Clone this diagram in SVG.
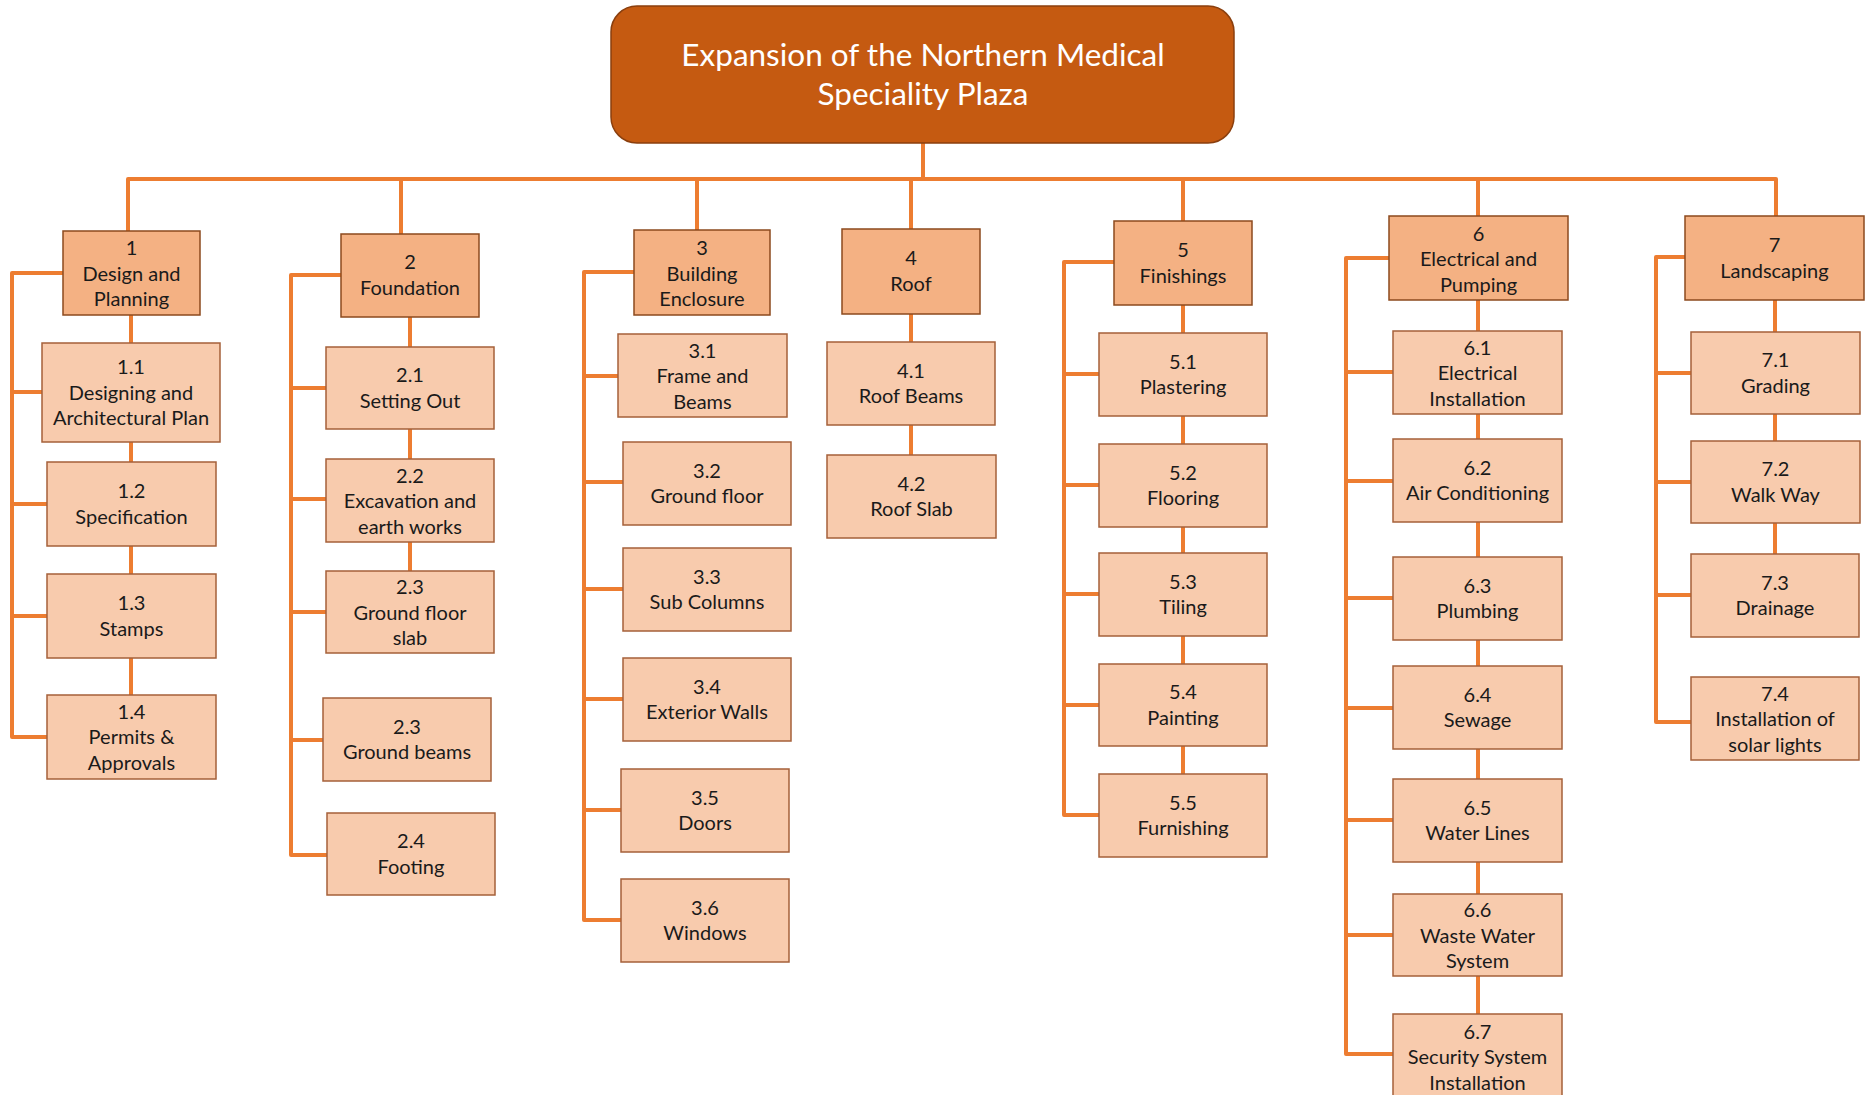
<svg xmlns="http://www.w3.org/2000/svg" width="1869" height="1095" viewBox="0 0 1869 1095">
<style>
.bg{fill:#ffffff}
.root rect{fill:#C55A11;stroke:#8A3F0E;stroke-width:1.5}
.root text{fill:#ffffff;font-family:Lato,"Liberation Sans",sans-serif;font-size:31.5px;text-anchor:middle}
.l1 rect{fill:#F4B183;stroke:#8C4A1E;stroke-width:1.5}
.l2 rect{fill:#F8CBAD;stroke:#A5603A;stroke-width:1.5}
.n text{fill:#1a1a1a;font-family:Lato,"Liberation Sans",sans-serif;font-size:20px;text-anchor:middle}
.c path{fill:none;stroke:#ED7D31;stroke-width:4;stroke-linejoin:round}
</style>
<rect class="bg" x="0" y="0" width="1869" height="1095"/>
<g id="connectors" class="c">
<path d="M923,143 V179"/>
<path d="M128,231 V179 H1776 V216"/>
<path d="M401,179 V234"/><path d="M697,179 V230"/><path d="M911,179 V229"/><path d="M1183,179 V221"/><path d="M1478,179 V216"/>
<path d="M63,273 H12 V737 H47"/><path d="M12,392 H42"/><path d="M12,504 H47"/><path d="M12,616 H47"/>
<path d="M131,315 V343"/><path d="M131,442 V462"/><path d="M131,546 V574"/><path d="M131,658 V695"/>
<path d="M341,275 H291 V855 H327"/><path d="M291,388 H326"/><path d="M291,499 H326"/><path d="M291,612 H326"/><path d="M291,740 H323"/>
<path d="M410,317 V347"/><path d="M410,429 V459"/><path d="M410,542 V571"/>
<path d="M634,272 H584 V920 H621"/><path d="M584,376 H618"/><path d="M584,482 H623"/><path d="M584,589 H623"/><path d="M584,699 H623"/><path d="M584,810 H621"/>
<path d="M911,314 V342"/><path d="M911,425 V455"/>
<path d="M1114,262 H1064 V815 H1099"/><path d="M1064,374 H1099"/><path d="M1064,485 H1099"/><path d="M1064,594 H1099"/><path d="M1064,705 H1099"/>
<path d="M1183,305 V333"/><path d="M1183,416 V444"/><path d="M1183,527 V553"/><path d="M1183,636 V664"/><path d="M1183,746 V774"/>
<path d="M1389,258 H1346 V1054 H1393"/><path d="M1346,372 H1393"/><path d="M1346,481 H1393"/><path d="M1346,598 H1393"/><path d="M1346,708 H1393"/><path d="M1346,820 H1393"/><path d="M1346,935 H1393"/>
<path d="M1478,300 V331"/><path d="M1478,414 V439"/><path d="M1478,522 V557"/><path d="M1478,640 V666"/><path d="M1478,749 V779"/><path d="M1478,862 V894"/><path d="M1478,976 V1014"/>
<path d="M1685,257 H1656 V722 H1691"/><path d="M1656,373 H1691"/><path d="M1656,482 H1691"/><path d="M1656,595 H1691"/>
<path d="M1775,300 V332"/><path d="M1775,414 V441"/><path d="M1775,523 V554"/>
</g>
<g id="root" class="root"><rect x="611" y="6" width="623" height="137" rx="26"/><text x="923" y="66">Expansion of the Northern Medical</text><text x="923" y="105">Speciality Plaza</text></g>

<g id="n1" class="n l1"><rect x="63" y="231" width="137" height="84"/><text x="131.5" y="255">1</text><text x="131.5" y="280.5">Design and</text><text x="131.5" y="306">Planning</text></g>
<g id="n2" class="n l1"><rect x="341" y="234" width="138" height="83"/><text x="410" y="269">2</text><text x="410" y="294.5">Foundation</text></g>
<g id="n3" class="n l1"><rect x="634" y="230" width="136" height="85"/><text x="702" y="255">3</text><text x="702" y="280.5">Building</text><text x="702" y="306">Enclosure</text></g>
<g id="n4" class="n l1"><rect x="842" y="229" width="138" height="85"/><text x="911" y="265">4</text><text x="911" y="290.5">Roof</text></g>
<g id="n5" class="n l1"><rect x="1114" y="221" width="138" height="84"/><text x="1183" y="257">5</text><text x="1183" y="282.5">Finishings</text></g>
<g id="n6" class="n l1"><rect x="1389" y="216" width="179" height="84"/><text x="1478.5" y="240.5">6</text><text x="1478.5" y="266">Electrical and</text><text x="1478.5" y="291.5">Pumping</text></g>
<g id="n7" class="n l1"><rect x="1685" y="216" width="179" height="84"/><text x="1774.5" y="252">7</text><text x="1774.5" y="277.5">Landscaping</text></g>

<g id="n1_1" class="n l2"><rect x="42" y="343" width="178" height="99"/><text x="131" y="374">1.1</text><text x="131" y="399.5">Designing and</text><text x="131" y="425">Architectural Plan</text></g>
<g id="n1_2" class="n l2"><rect x="47" y="462" width="169" height="84"/><text x="131.5" y="498">1.2</text><text x="131.5" y="523.5">Specification</text></g>
<g id="n1_3" class="n l2"><rect x="47" y="574" width="169" height="84"/><text x="131.5" y="610">1.3</text><text x="131.5" y="635.5">Stamps</text></g>
<g id="n1_4" class="n l2"><rect x="47" y="695" width="169" height="84"/><text x="131.5" y="718.5">1.4</text><text x="131.5" y="744">Permits &amp;</text><text x="131.5" y="769.5">Approvals</text></g>

<g id="n2_1" class="n l2"><rect x="326" y="347" width="168" height="82"/><text x="410" y="382">2.1</text><text x="410" y="407.5">Setting Out</text></g>
<g id="n2_2" class="n l2"><rect x="326" y="459" width="168" height="83"/><text x="410" y="482.5">2.2</text><text x="410" y="508">Excavation and</text><text x="410" y="533.5">earth works</text></g>
<g id="n2_3" class="n l2"><rect x="326" y="571" width="168" height="82"/><text x="410" y="594">2.3</text><text x="410" y="619.5">Ground floor</text><text x="410" y="645">slab</text></g>
<g id="n2_3b" class="n l2"><rect x="323" y="698" width="168" height="83"/><text x="407" y="733.5">2.3</text><text x="407" y="759">Ground beams</text></g>
<g id="n2_4" class="n l2"><rect x="327" y="813" width="168" height="82"/><text x="411" y="848">2.4</text><text x="411" y="873.5">Footing</text></g>

<g id="n3_1" class="n l2"><rect x="618" y="334" width="169" height="83"/><text x="702.5" y="357.5">3.1</text><text x="702.5" y="383">Frame and</text><text x="702.5" y="408.5">Beams</text></g>
<g id="n3_2" class="n l2"><rect x="623" y="442" width="168" height="83"/><text x="707" y="477.5">3.2</text><text x="707" y="503">Ground floor</text></g>
<g id="n3_3" class="n l2"><rect x="623" y="548" width="168" height="83"/><text x="707" y="583.5">3.3</text><text x="707" y="609">Sub Columns</text></g>
<g id="n3_4" class="n l2"><rect x="623" y="658" width="168" height="83"/><text x="707" y="693.5">3.4</text><text x="707" y="719">Exterior Walls</text></g>
<g id="n3_5" class="n l2"><rect x="621" y="769" width="168" height="83"/><text x="705" y="804.5">3.5</text><text x="705" y="830">Doors</text></g>
<g id="n3_6" class="n l2"><rect x="621" y="879" width="168" height="83"/><text x="705" y="914.5">3.6</text><text x="705" y="940">Windows</text></g>

<g id="n4_1" class="n l2"><rect x="827" y="342" width="168" height="83"/><text x="911" y="377.5">4.1</text><text x="911" y="403">Roof Beams</text></g>
<g id="n4_2" class="n l2"><rect x="827" y="455" width="169" height="83"/><text x="911.5" y="490.5">4.2</text><text x="911.5" y="516">Roof Slab</text></g>

<g id="n5_1" class="n l2"><rect x="1099" y="333" width="168" height="83"/><text x="1183" y="368.5">5.1</text><text x="1183" y="394">Plastering</text></g>
<g id="n5_2" class="n l2"><rect x="1099" y="444" width="168" height="83"/><text x="1183" y="479.5">5.2</text><text x="1183" y="505">Flooring</text></g>
<g id="n5_3" class="n l2"><rect x="1099" y="553" width="168" height="83"/><text x="1183" y="588.5">5.3</text><text x="1183" y="614">Tiling</text></g>
<g id="n5_4" class="n l2"><rect x="1099" y="664" width="168" height="82"/><text x="1183" y="699">5.4</text><text x="1183" y="724.5">Painting</text></g>
<g id="n5_5" class="n l2"><rect x="1099" y="774" width="168" height="83"/><text x="1183" y="809.5">5.5</text><text x="1183" y="835">Furnishing</text></g>

<g id="n6_1" class="n l2"><rect x="1393" y="331" width="169" height="83"/><text x="1477.5" y="354.5">6.1</text><text x="1477.5" y="380">Electrical</text><text x="1477.5" y="405.5">Installation</text></g>
<g id="n6_2" class="n l2"><rect x="1393" y="439" width="169" height="83"/><text x="1477.5" y="474.5">6.2</text><text x="1477.5" y="500">Air Conditioning</text></g>
<g id="n6_3" class="n l2"><rect x="1393" y="557" width="169" height="83"/><text x="1477.5" y="592.5">6.3</text><text x="1477.5" y="618">Plumbing</text></g>
<g id="n6_4" class="n l2"><rect x="1393" y="666" width="169" height="83"/><text x="1477.5" y="701.5">6.4</text><text x="1477.5" y="727">Sewage</text></g>
<g id="n6_5" class="n l2"><rect x="1393" y="779" width="169" height="83"/><text x="1477.5" y="814.5">6.5</text><text x="1477.5" y="840">Water Lines</text></g>
<g id="n6_6" class="n l2"><rect x="1393" y="894" width="169" height="82"/><text x="1477.5" y="917">6.6</text><text x="1477.5" y="942.5">Waste Water</text><text x="1477.5" y="968">System</text></g>
<g id="n6_7" class="n l2"><rect x="1393" y="1014" width="169" height="85"/><text x="1477.5" y="1038.5">6.7</text><text x="1477.5" y="1064">Security System</text><text x="1477.5" y="1089.5">Installation</text></g>

<g id="n7_1" class="n l2"><rect x="1691" y="332" width="169" height="82"/><text x="1775.5" y="367">7.1</text><text x="1775.5" y="392.5">Grading</text></g>
<g id="n7_2" class="n l2"><rect x="1691" y="441" width="169" height="82"/><text x="1775.5" y="476">7.2</text><text x="1775.5" y="501.5">Walk Way</text></g>
<g id="n7_3" class="n l2"><rect x="1691" y="554" width="168" height="83"/><text x="1775" y="589.5">7.3</text><text x="1775" y="615">Drainage</text></g>
<g id="n7_4" class="n l2"><rect x="1691" y="677" width="168" height="83"/><text x="1775" y="700.5">7.4</text><text x="1775" y="726">Installation of</text><text x="1775" y="751.5">solar lights</text></g>
</svg>
